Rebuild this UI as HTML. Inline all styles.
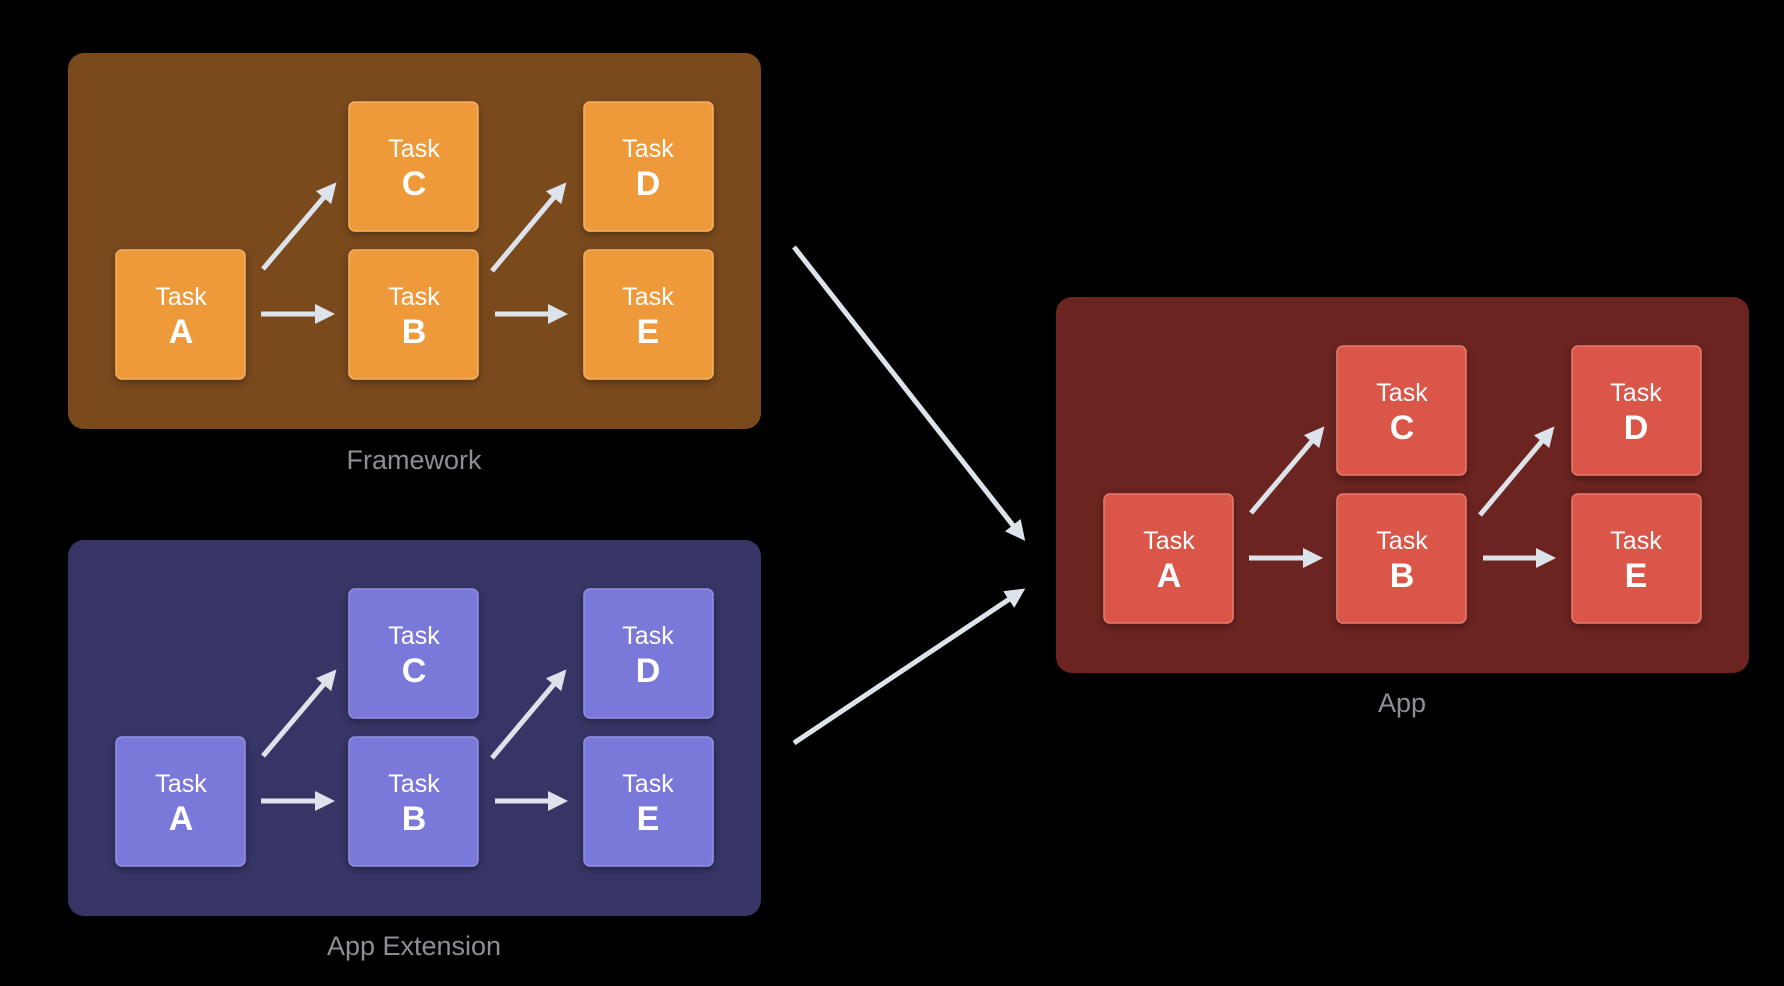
<!DOCTYPE html>
<html><head><meta charset="utf-8"><style>
html,body{margin:0;padding:0;background:#000;}
svg{display:block;}
text{font-family:"Liberation Sans",sans-serif;text-anchor:middle;fill:#fff;}
</style></head><body>
<svg width="1784" height="986" viewBox="0 0 1784 986" xmlns="http://www.w3.org/2000/svg">
<defs>
<marker id="ah" markerWidth="4" markerHeight="4" refX="2" refY="2" orient="auto" markerUnits="strokeWidth">
<path d="M0,0 L4,2 L0,4 Z" fill="#dde3ea"/>
</marker>
<filter id="sh" x="-20%" y="-20%" width="140%" height="140%"><feDropShadow dx="0" dy="3" stdDeviation="4" flood-color="#000" flood-opacity="0.35"/></filter>
<g id="arrows" stroke="#dde3ea" stroke-width="5" fill="none">
<line x1="263" y1="269" x2="330" y2="190" marker-end="url(#ah)"/>
<line x1="261" y1="314" x2="325" y2="314" marker-end="url(#ah)"/>
<line x1="492" y1="271" x2="560" y2="190" marker-end="url(#ah)"/>
<line x1="495" y1="314" x2="558" y2="314" marker-end="url(#ah)"/>
</g>
<g id="labels">
<text x="181" y="305" font-size="25">Task</text><text x="181" y="343" font-size="34" font-weight="bold">A</text>
<text x="414" y="157" font-size="25">Task</text><text x="414" y="195" font-size="34" font-weight="bold">C</text>
<text x="414" y="305" font-size="25">Task</text><text x="414" y="343" font-size="34" font-weight="bold">B</text>
<text x="648" y="157" font-size="25">Task</text><text x="648" y="195" font-size="34" font-weight="bold">D</text>
<text x="648" y="305" font-size="25">Task</text><text x="648" y="343" font-size="34" font-weight="bold">E</text>
</g>
</defs>

<!-- Framework -->
<g>
<rect x="68" y="53" width="693" height="376" rx="16" fill="#7a4a1c"/>
<g fill="#ee9a3a" stroke="#f3b066" stroke-width="1.5" filter="url(#sh)">
<rect x="116" y="250" width="129" height="129" rx="6"/>
<rect x="349" y="102" width="129" height="129" rx="6"/>
<rect x="349" y="250" width="129" height="129" rx="6"/>
<rect x="584" y="102" width="129" height="129" rx="6"/>
<rect x="584" y="250" width="129" height="129" rx="6"/>
</g>
<use href="#arrows"/><use href="#labels"/>
</g>
<text x="414" y="469" font-size="27" style="fill:#8e8e93">Framework</text>

<!-- App Extension -->
<g transform="translate(0,487)">
<rect x="68" y="53" width="693" height="376" rx="16" fill="#373566"/>
<g fill="#7a78d8" stroke="#9290e3" stroke-width="1.5" filter="url(#sh)">
<rect x="116" y="250" width="129" height="129" rx="6"/>
<rect x="349" y="102" width="129" height="129" rx="6"/>
<rect x="349" y="250" width="129" height="129" rx="6"/>
<rect x="584" y="102" width="129" height="129" rx="6"/>
<rect x="584" y="250" width="129" height="129" rx="6"/>
</g>
<use href="#arrows"/><use href="#labels"/>
</g>
<text x="414" y="955" font-size="27" style="fill:#8e8e93">App Extension</text>

<!-- App -->
<g transform="translate(988,244)">
<rect x="68" y="53" width="693" height="376" rx="16" fill="#6b2420"/>
<g fill="#d9574a" stroke="#e77a6e" stroke-width="1.5" filter="url(#sh)">
<rect x="116" y="250" width="129" height="129" rx="6"/>
<rect x="349" y="102" width="129" height="129" rx="6"/>
<rect x="349" y="250" width="129" height="129" rx="6"/>
<rect x="584" y="102" width="129" height="129" rx="6"/>
<rect x="584" y="250" width="129" height="129" rx="6"/>
</g>
<use href="#arrows"/><use href="#labels"/>
</g>
<text x="1402" y="712" font-size="27" style="fill:#8e8e93">App</text>

<!-- Big arrows -->
<g stroke="#dde3ea" stroke-width="5" fill="none">
<line x1="794" y1="247" x2="1019" y2="533" marker-end="url(#ah)"/>
<line x1="794" y1="743" x2="1017" y2="594" marker-end="url(#ah)"/>
</g>
</svg>
</body></html>
